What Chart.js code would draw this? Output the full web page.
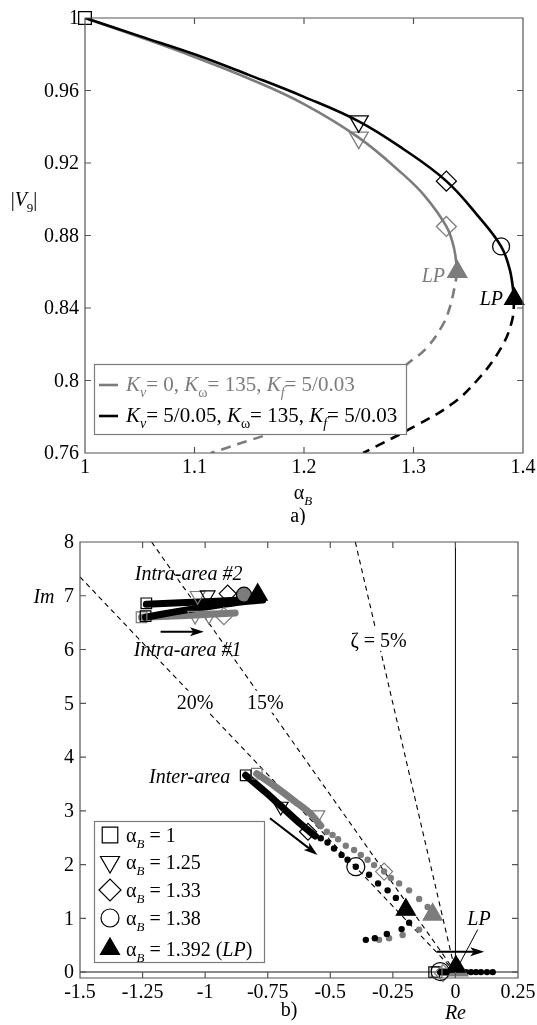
<!DOCTYPE html>
<html>
<head>
<meta charset="utf-8">
<script src="https://cdn.jsdelivr.net/npm/chart.js@4/dist/chart.umd.min.js"></script>
<style>
  html, body { margin: 0; padding: 0; background: #fff; }
  #wrap { position: relative; width: 537px; height: 1025px; }
  #chartA { position: absolute; left: 0; top: 0; }
  #chartB { position: absolute; left: 0; top: 525px; }
</style>
</head>
<body>
<div id="wrap">
  <canvas id="chartA" width="537" height="525"></canvas>
  <canvas id="chartB" width="537" height="500"></canvas>
</div>
<script>
const FONT = '"Liberation Serif", "Times New Roman", serif';
const GRAY = '#7c7c7c';
const FRAME = '#555';

// ---------- panel a) : |V9| vs alpha_B ----------
const A_TICKS = [1, 1.1, 1.2, 1.3, 1.4];
const A_TICK_LABELS = ['1', '1.1', '1.2', '1.3', '1.4'];
const V_TICKS = [0.76, 0.8, 0.84, 0.88, 0.92, 0.96, 1];
const V_TICK_LABELS = ['0.76', '0.8', '0.84', '0.88', '0.92', '0.96', '1'];

const GRAY_STABLE_ALPHA = [1, 1.05, 1.10, 1.15, 1.20, 1.25, 1.29, 1.31, 1.33, 1.337, 1.34];
const GRAY_STABLE_V     = [1, 0.9895, 0.9785, 0.9665, 0.9525, 0.934, 0.914, 0.902, 0.885, 0.873, 0.86];
const BLACK_STABLE_ALPHA = [1, 1.05, 1.10, 1.15, 1.20, 1.25, 1.29, 1.33, 1.36, 1.38, 1.388, 1.392];
const BLACK_STABLE_V     = [1, 0.990, 0.980, 0.9685, 0.9565, 0.943, 0.928, 0.910, 0.890, 0.874, 0.861, 0.845];
const GRAY_UNSTABLE_ALPHA = [1.34, 1.337, 1.333, 1.327, 1.312, 1.294, 1.27, 1.24, 1.205, 1.166, 1.115];
const GRAY_UNSTABLE_V     = [0.86, 0.85, 0.84, 0.831, 0.818, 0.809, 0.797, 0.786, 0.777, 0.770, 0.760];
const BLACK_UNSTABLE_ALPHA = [1.392, 1.390, 1.380, 1.358, 1.335, 1.302, 1.254];
const BLACK_UNSTABLE_V     = [0.845, 0.833, 0.818, 0.800, 0.787, 0.775, 0.760];

// markers: alpha_B = 1, 1.25, 1.33, 1.38, LP
const MARK_BLACK_ALPHA = [1, 1.25, 1.33, 1.38, 1.392];
const MARK_BLACK_V     = [1, 0.943, 0.910, 0.874, 0.845];
const MARK_BLACK_STYLE = ['rect', 'triangle', 'rectRot', 'circle', 'triangle'];
const MARK_GRAY_ALPHA = [1.25, 1.33, 1.34];
const MARK_GRAY_V     = [0.934, 0.885, 0.86];
const MARK_GRAY_STYLE = ['triangle', 'rectRot', 'triangle'];

// ---------- panel b) : eigenvalues ----------
const RE_TICKS = [-1.5, -1.25, -1, -0.75, -0.5, -0.25, 0, 0.25];
const RE_TICK_LABELS = ['-1.5', '-1.25', '-1', '-0.75', '-0.5', '-0.25', '0', '0.25'];
const IM_TICKS = [0, 1, 2, 3, 4, 5, 6, 7, 8];
const IM_TICK_LABELS = ['0', '1', '2', '3', '4', '5', '6', '7', '8'];

const ZETA_20 = [[-1.5, 7.35], [0, 0]];
const ZETA_15 = [[-1.214, 8], [0, 0]];
const ZETA_5  = [[-0.40, 8], [0, 0]];

const GRAY_INTRA_BAND  = [[-1.254, 6.60], [-1.15, 6.62], [-1.0, 6.65], [-0.88, 6.68]];
const BLACK_INTRA1_BAND = [[-1.238, 6.60], [-1.12, 6.70], [-1.0, 6.79], [-0.88, 6.87], [-0.77, 6.92]];
const BLACK_INTRA2_BAND = [[-1.235, 6.84], [-1.1, 6.87], [-0.95, 6.90], [-0.85, 6.92], [-0.77, 6.94]];

const GRAY_INTER_BAND  = [[-0.794, 3.69], [-0.72, 3.45], [-0.64, 3.17], [-0.58, 2.95], [-0.538, 2.72]];
const BLACK_INTER_BAND = [[-0.838, 3.66], [-0.76, 3.35], [-0.698, 3.09], [-0.62, 2.76], [-0.56, 2.53]];
const GRAY_INTER_DOTS = [[-0.514, 2.61], [-0.491, 2.55], [-0.469, 2.47], [-0.438, 2.35], [-0.405, 2.27],
  [-0.378, 2.18], [-0.351, 2.09], [-0.325, 1.99], [-0.285, 1.87], [-0.258, 1.75], [-0.225, 1.65],
  [-0.185, 1.52], [-0.145, 1.36], [-0.111, 1.21], [-0.091, 1.07], [-0.145, 0.79], [-0.211, 0.69],
  [-0.265, 0.63], [-0.305, 0.60]];
const BLACK_INTER_DOTS = [[-0.538, 2.49], [-0.511, 2.41], [-0.485, 2.30], [-0.455, 2.18], [-0.431, 2.09],
  [-0.398, 1.96], [-0.345, 1.81], [-0.309, 1.65], [-0.271, 1.52], [-0.238, 1.38], [-0.198, 1.16],
  [-0.185, 0.92], [-0.215, 0.80], [-0.274, 0.71], [-0.322, 0.63], [-0.358, 0.60]];

const BLACK_ORIGIN_BAND = [[-0.06, 0], [0.03, 0]];
const BLACK_ORIGIN_DOTS = [[0.042, 0], [0.062, 0], [0.082, 0], [0.102, 0], [0.126, 0], [0.149, 0]];

const SQ_BLACK = [[-1.235, 6.86], [-1.238, 6.62], [-0.838, 3.66], [-0.085, 0]];
const SQ_GRAY  = [[-1.254, 6.60], [-0.794, 3.69], [-0.075, 0]];
const TRI_BLACK = [[-0.99, 7.01], [-0.698, 3.08]];
const TRI_GRAY  = [[-1.03, 7.0], [-1.04, 6.63], [-0.985, 6.63], [-0.551, 2.92]];
const DIA_BLACK = [[-0.91, 7.04], [-0.589, 2.61]];
const DIA_GRAY  = [[-0.925, 6.62], [-0.285, 1.87], [-0.05, -0.02]];
const CIRC_BLACK = [[-0.398, 1.96], [-0.061, 0.01]];
const CIRC_GRAY  = [[-0.845, 7.02]];
const LP_BLACK = [[-0.79, 7.02], [-0.198, 1.16], [0.002, 0.10]];
const LP_GRAY  = [[-0.091, 1.07], [0.012, 0.03]];

const ARROWS = [[[-1.178, 6.33], [-1.005, 6.33]], [[-0.741, 2.86], [-0.551, 2.18]], [[-0.074, 0.38], [0.115, 0.38]]];
const LP_LEADER = [[0.089, 0.79], [0.015, 0.14]];

const LEGEND_B = ['1', '1.25', '1.33', '1.38', '1.392'];

// ---------- helpers ----------
const pts = (xs, ys) => xs.map((x, i) => ({x: x, y: ys[i]}));
const pairs = arr => arr.map(p => ({x: p[0], y: p[1]}));

function rich(ctx, x, y, parts, size, color, align) {
  const fontFor = k => {
    const it = (k === 'i' || k === 'si') ? 'italic ' : '';
    const sz = (k === 's' || k === 'si') ? Math.round(size * 0.66) : size;
    return it + sz + 'px ' + FONT;
  };
  let w = 0;
  parts.forEach(p => { ctx.font = fontFor(p[1]); w += ctx.measureText(p[0]).width; });
  let cx = align === 'center' ? x - w / 2 : (align === 'right' ? x - w : x);
  ctx.fillStyle = color;
  ctx.textAlign = 'left';
  ctx.textBaseline = 'alphabetic';
  parts.forEach(p => {
    ctx.font = fontFor(p[1]);
    const dy = (p[1] === 's' || p[1] === 'si') ? size * 0.28 : 0;
    ctx.fillText(p[0], cx, y + dy);
    cx += ctx.measureText(p[0]).width;
  });
  return w;
}

function arrow(ctx, x1, y1, x2, y2) {
  const head = 14, wid = 4.5;
  const a = Math.atan2(y2 - y1, x2 - x1), c = Math.cos(a), s = Math.sin(a);
  ctx.beginPath();
  ctx.moveTo(x1, y1);
  ctx.lineTo(x2 - c * head * 0.7, y2 - s * head * 0.7);
  ctx.stroke();
  ctx.beginPath();
  ctx.moveTo(x2, y2);
  ctx.lineTo(x2 - head * c + wid * s, y2 - head * s - wid * c);
  ctx.lineTo(x2 - head * c * 0.75, y2 - head * s * 0.75);
  ctx.lineTo(x2 - head * c - wid * s, y2 - head * s + wid * c);
  ctx.closePath();
  ctx.fill();
}

function mark(ctx, style, rot, r, x, y, fill, stroke) {
  ctx.save();
  ctx.fillStyle = fill;
  ctx.strokeStyle = stroke;
  ctx.lineWidth = 1.2;
  Chart.helpers.drawPoint(ctx, {pointStyle: style, rotation: rot, radius: r, borderWidth: 1.2}, x, y);
  ctx.restore();
}

// box, inward ticks on all four sides and tick labels, from the chart's own scales
const framePlugin = {
  id: 'frame',
  afterDatasetsDraw(chart, args, opts) {
    const {ctx, chartArea: a, scales: {x, y}} = chart;
    ctx.save();
    ctx.strokeStyle = FRAME;
    ctx.lineWidth = 1.2;
    ctx.beginPath();
    ctx.rect(a.left, a.top, a.right - a.left, a.bottom - a.top);
    x.ticks.forEach(t => {
      const px = x.getPixelForValue(t.value);
      ctx.moveTo(px, a.bottom); ctx.lineTo(px, a.bottom - 6);
      ctx.moveTo(px, a.top); ctx.lineTo(px, a.top + 6);
    });
    y.ticks.forEach(t => {
      const py = y.getPixelForValue(t.value);
      ctx.moveTo(a.left, py); ctx.lineTo(a.left + 6, py);
      ctx.moveTo(a.right, py); ctx.lineTo(a.right - 6, py);
    });
    ctx.stroke();
    ctx.fillStyle = '#000';
    ctx.font = '20px ' + FONT;
    ctx.textBaseline = 'middle';
    ctx.textAlign = 'center';
    x.ticks.forEach((t, i) => ctx.fillText(opts.xLabels[i], x.getPixelForValue(t.value), a.bottom + 15));
    ctx.textAlign = 'right';
    y.ticks.forEach((t, i) => ctx.fillText(opts.yLabels[i], a.left - 6, y.getPixelForValue(t.value) + 1));
    ctx.restore();
  }
};

function axisOpts(min, max, ticks, fit) {
  return {
    type: 'linear', min: min, max: max,
    grid: {display: false}, border: {display: false},
    ticks: {display: false},
    afterBuildTicks: s => { s.ticks = ticks.map(v => ({value: v})); },
    afterFit: fit
  };
}

Chart.defaults.font.family = FONT;

// ---------- chart a ----------
const lineSet = (data, color, dash, order) => ({
  data: data, showLine: true, borderColor: color, borderWidth: 2.6, borderDash: dash,
  pointRadius: 0, tension: 0.4, fill: false, order: order
});
const markSet = (data, styles, color, order) => ({
  data: data, showLine: false, clip: false, order: order,
  pointStyle: styles,
  pointRotation: styles.map((s, i) => (s === 'triangle' && i !== styles.length - 1) ? 180 : 0),
  pointRadius: styles.map(s => s === 'triangle' ? 11 : (s === 'rect' ? 9 : (s === 'rectRot' ? 10 : 8.5))),
  pointBackgroundColor: styles.map((s, i) => i === styles.length - 1 ? color : 'rgba(0,0,0,0)'),
  pointBorderColor: color, pointBorderWidth: 1.3
});

const decorA = {
  id: 'decorA',
  afterDraw(chart) {
    const {ctx} = chart;
    ctx.save();
    // LP labels
    rich(ctx, 445, 282, [['LP', 'i']], 20, GRAY, 'right');
    rich(ctx, 503, 305, [['LP', 'i']], 20, '#000', 'right');
    // legend
    ctx.fillStyle = '#fff';
    ctx.fillRect(94, 364, 312, 70);
    ctx.strokeStyle = GRAY;
    ctx.lineWidth = 1.2;
    ctx.strokeRect(94.5, 364.5, 312, 70);
    ctx.lineWidth = 2.6;
    ctx.strokeStyle = GRAY;
    ctx.beginPath(); ctx.moveTo(99, 385); ctx.lineTo(118, 385); ctx.stroke();
    ctx.strokeStyle = '#000';
    ctx.beginPath(); ctx.moveTo(99, 416); ctx.lineTo(118, 416); ctx.stroke();
    rich(ctx, 126, 391, [['K', 'i'], ['v', 'si'], ['= 0, ', 'n'], ['K', 'i'], ['ω', 's'], ['= 135, ', 'n'], ['K', 'i'], ['f', 'si'], ['= 5/0.03', 'n']], 21, GRAY, 'left');
    rich(ctx, 126, 422, [['K', 'i'], ['v', 'si'], ['= 5/0.05, ', 'n'], ['K', 'i'], ['ω', 's'], ['= 135, ', 'n'], ['K', 'i'], ['f', 'si'], ['= 5/0.03', 'n']], 21, '#000', 'left');
    // axis titles
    rich(ctx, 24, 206, [['|', 'n'], ['V', 'i'], ['9', 's'], ['|', 'n']], 20, '#000', 'center');
    rich(ctx, 303, 499, [['α', 'n'], ['B', 'si']], 20, '#000', 'center');
    rich(ctx, 298, 522, [['a)', 'n']], 20, '#000', 'center');
    ctx.restore();
  }
};

new Chart(document.getElementById('chartA'), {
  type: 'scatter',
  data: {
    datasets: [
      markSet(pts(MARK_BLACK_ALPHA, MARK_BLACK_V), MARK_BLACK_STYLE, '#000', 1),
      markSet(pts(MARK_GRAY_ALPHA, MARK_GRAY_V), MARK_GRAY_STYLE, GRAY, 2),
      lineSet(pts(BLACK_STABLE_ALPHA, BLACK_STABLE_V), '#000', [], 3),
      lineSet(pts(GRAY_STABLE_ALPHA, GRAY_STABLE_V), GRAY, [], 4),
      lineSet(pts(BLACK_UNSTABLE_ALPHA, BLACK_UNSTABLE_V), '#000', [10, 7], 5),
      lineSet(pts(GRAY_UNSTABLE_ALPHA, GRAY_UNSTABLE_V), GRAY, [10, 7], 6)
    ]
  },
  options: {
    responsive: false, animation: false,
    layout: {padding: {left: 0, right: 14, top: 18, bottom: 0}},
    plugins: {
      legend: {display: false}, tooltip: {enabled: false},
      frame: {xLabels: A_TICK_LABELS, yLabels: V_TICK_LABELS}
    },
    scales: {
      x: axisOpts(1, 1.4, A_TICKS, s => { s.height = 72; }),
      y: axisOpts(0.76, 1, V_TICKS, s => { s.width = 85; })
    }
  },
  plugins: [framePlugin, decorA]
});

// ---------- chart b ----------
const bandSet = (arr, color, width, order) => ({
  data: pairs(arr), showLine: true, borderColor: color, borderWidth: width,
  borderCapStyle: 'round', pointRadius: 0, tension: 0.3, order: order
});
const dashSet = (arr, order) => ({
  data: pairs(arr), showLine: true, borderColor: '#000', borderWidth: 1.1,
  borderDash: [5, 4], pointRadius: 0, order: order
});
const dotSet = (arr, color, order) => ({
  data: pairs(arr), showLine: false, pointRadius: 3.2, pointBackgroundColor: color,
  pointBorderWidth: 0, order: order
});
const symSet = (arr, style, rot, r, fill, stroke, order) => ({
  data: pairs(arr), showLine: false, clip: false, pointStyle: style, pointRotation: rot,
  pointRadius: r, pointBackgroundColor: fill, pointBorderColor: stroke, pointBorderWidth: 1.2, order: order
});

const decorB = {
  id: 'decorB',
  afterDraw(chart) {
    const {ctx, scales: {x, y}} = chart;
    const X = v => x.getPixelForValue(v), Y = v => y.getPixelForValue(v);
    ctx.save();
    // damping labels with white background
    const zlab = (re, im, w) => {
      ctx.fillStyle = '#fff';
      ctx.fillRect(X(re) - w / 2, Y(im) - 11, w, 22);
    };
    zlab(-1.04, 5.03, 40);
    zlab(-0.76, 5.03, 40);
    zlab(-0.307, 6.18, 66);
    rich(ctx, X(-1.04), Y(5.03) + 7, [['20%', 'n']], 20, '#000', 'center');
    rich(ctx, X(-0.76), Y(5.03) + 7, [['15%', 'n']], 20, '#000', 'center');
    rich(ctx, X(-0.307), Y(6.18) + 7, [['ζ = 5%', 'n']], 20, '#000', 'center');
    rich(ctx, X(-1.066), Y(7.42) + 7, [['Intra-area #2', 'i']], 20, '#000', 'center');
    rich(ctx, X(-1.07), Y(6.01) + 7, [['Intra-area #1', 'i']], 20, '#000', 'center');
    rich(ctx, X(-0.9), Y(3.65) + 7, [['Inter-area', 'i']], 20, '#000', 'right');
    rich(ctx, X(0.094), Y(1.01) + 7, [['LP', 'i']], 20, '#000', 'center');
    // arrows
    ctx.strokeStyle = '#000'; ctx.fillStyle = '#000'; ctx.lineWidth = 2;
    ARROWS.forEach(a => arrow(ctx, X(a[0][0]), Y(a[0][1]), X(a[1][0]), Y(a[1][1])));
    ctx.lineWidth = 1;
    ctx.beginPath();
    ctx.moveTo(X(LP_LEADER[0][0]), Y(LP_LEADER[0][1]));
    ctx.lineTo(X(LP_LEADER[1][0]), Y(LP_LEADER[1][1]));
    ctx.stroke();
    // legend
    ctx.fillStyle = '#fff';
    ctx.fillRect(94, 296, 170, 141);
    ctx.strokeStyle = GRAY; ctx.lineWidth = 1.2;
    ctx.strokeRect(94.5, 296.5, 170, 141);
    const rows = [310, 337, 365, 393, 424];
    const styles = [['rect', 0, 11], ['triangle', 180, 11], ['rectRot', 0, 11], ['circle', 0, 9], ['triangle', 0, 11]];
    rows.forEach((ry, i) => {
      const st = styles[i];
      mark(ctx, st[0], st[1], st[2], 110, ry, i === 4 ? '#000' : 'rgba(0,0,0,0)', '#000');
      const parts = [['α', 'n'], ['B', 'si'], [' = ' + LEGEND_B[i], 'n']];
      if (i === 4) parts.push([' (', 'n'], ['LP', 'i'], [')', 'n']);
      rich(ctx, 126, ry + 7, parts, 20, '#000', 'left');
    });
    // axis titles
    rich(ctx, 44, Y(7) + 7, [['Im', 'i']], 20, '#000', 'center');
    rich(ctx, X(0), 494, [['Re', 'i']], 20, '#000', 'center');
    rich(ctx, 289, 491, [['b)', 'n']], 20, '#000', 'center');
    ctx.restore();
  }
};

new Chart(document.getElementById('chartB'), {
  type: 'scatter',
  data: {
    datasets: [
      symSet(LP_BLACK, 'triangle', 0, 11, '#000', '#000', 1),
      symSet(LP_GRAY, 'triangle', 0, 11, GRAY, GRAY, 2),
      symSet(CIRC_BLACK, 'circle', 0, 9, 'rgba(0,0,0,0)', '#000', 3),
      symSet(CIRC_GRAY, 'circle', 0, 7.5, GRAY, '#000', 3),
      symSet(DIA_BLACK, 'rectRot', 0, 8.5, 'rgba(0,0,0,0)', '#000', 4),
      symSet(DIA_GRAY, 'rectRot', 0, 8.5, 'rgba(0,0,0,0)', GRAY, 4),
      symSet(TRI_BLACK, 'triangle', 180, 8.5, 'rgba(0,0,0,0)', '#000', 5),
      symSet(TRI_GRAY, 'triangle', 180, 8.5, 'rgba(0,0,0,0)', GRAY, 5),
      symSet(SQ_BLACK, 'rect', 0, 7.5, 'rgba(0,0,0,0)', '#000', 6),
      symSet(SQ_GRAY, 'rect', 0, 7.5, 'rgba(0,0,0,0)', GRAY, 6),
      dotSet(BLACK_INTER_DOTS, '#000', 7),
      dotSet(BLACK_ORIGIN_DOTS, '#000', 7),
      bandSet(BLACK_INTER_BAND, '#000', 7, 8),
      bandSet(BLACK_ORIGIN_BAND, '#000', 7, 8),
      bandSet(BLACK_INTRA2_BAND, '#000', 7, 8),
      bandSet(BLACK_INTRA1_BAND, '#000', 7, 8),
      dotSet(GRAY_INTER_DOTS, GRAY, 9),
      bandSet(GRAY_INTER_BAND, GRAY, 7, 10),
      bandSet(GRAY_INTRA_BAND, GRAY, 7, 10),
      {data: pairs([[0, -0.11], [0, 8]]), showLine: true, borderColor: '#000', borderWidth: 1, pointRadius: 0, order: 11},
      {data: pairs([[-1.5, 0], [0.25, 0]]), showLine: true, borderColor: '#666', borderWidth: 1.5, pointRadius: 0, order: 11},
      dashSet(ZETA_20, 12),
      dashSet(ZETA_15, 12),
      dashSet(ZETA_5, 12)
    ]
  },
  options: {
    responsive: false, animation: false,
    layout: {padding: {left: 0, right: 19, top: 17, bottom: 0}},
    plugins: {
      legend: {display: false}, tooltip: {enabled: false},
      frame: {xLabels: RE_TICK_LABELS, yLabels: IM_TICK_LABELS}
    },
    scales: {
      x: axisOpts(-1.5, 0.25, RE_TICKS, s => { s.height = 47; }),
      y: axisOpts(-0.11, 8, IM_TICKS, s => { s.width = 80; })
    }
  },
  plugins: [framePlugin, decorB]
});
</script>
</body>
</html>
